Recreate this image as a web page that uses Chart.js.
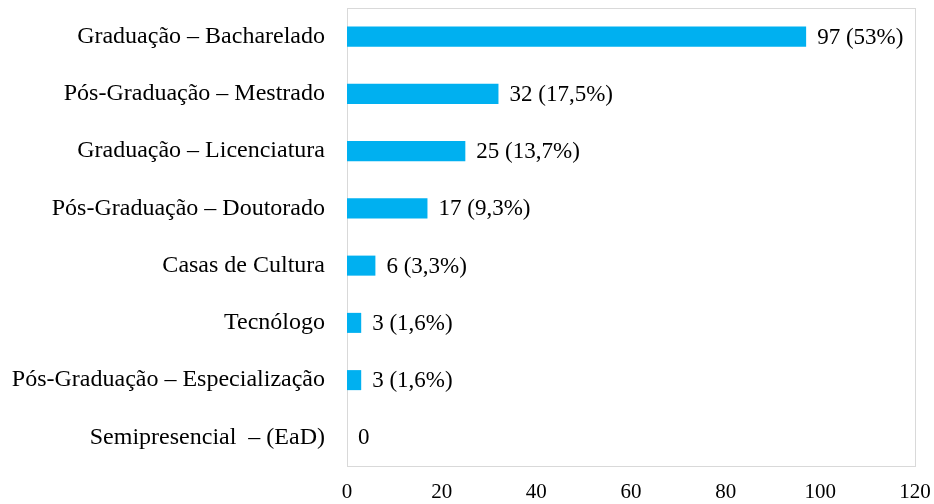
<!DOCTYPE html>
<html>
<head>
<meta charset="utf-8">
<script src="https://cdn.jsdelivr.net/npm/chart.js@4/dist/chart.umd.min.js"></script>
<style>
  html, body { margin: 0; padding: 0; background: #fff; }
  #wrap { width: 934px; height: 504px; }
</style>
</head>
<body>
<div id="wrap"><canvas id="grafico"></canvas></div>
<script>
const categorias = [
    "Graduação – Bacharelado",
    "Pós-Graduação – Mestrado",
    "Graduação – Licenciatura",
    "Pós-Graduação – Doutorado",
    "Casas de Cultura",
    "Tecnólogo",
    "Pós-Graduação – Especialização",
    "Semipresencial  – (EaD)"
];
const valores = [97, 32, 25, 17, 6, 3, 3, 0];
const percentuais = ["53%", "17,5%", "13,7%", "9,3%", "3,3%", "1,6%", "1,6%", null];
const ticksX = [0, 20, 40, 60, 80, 100, 120];

const fonte = "'Liberation Serif', 'Times New Roman', serif";

// rotulos no fim das barras
const rotulos = {
    id: 'rotulos',
    afterDatasetsDraw(chart) {
        const ctx = chart.ctx;
        const meta = chart.getDatasetMeta(0);
        ctx.save();
        ctx.font = "23px " + fonte;
        ctx.fillStyle = "#000";
        ctx.textAlign = "left";
        ctx.textBaseline = "middle";
        meta.data.forEach((bar, i) => {
            const p = percentuais[i];
            const txt = p ? `${valores[i]} (${p})` : `${valores[i]}`;
            ctx.fillText(txt, bar.x + 11, bar.y + 1);
        });
        ctx.restore();
    }
};

// moldura cinza da area do grafico
const moldura = {
    id: 'moldura',
    beforeDatasetsDraw(chart) {
        const a = chart.chartArea;
        const ctx = chart.ctx;
        ctx.save();
        ctx.strokeStyle = "#d9d9d9";
        ctx.lineWidth = 1;
        ctx.strokeRect(a.left + 0.5, a.top + 0.5, a.right - a.left, a.bottom - a.top);
        ctx.restore();
    }
};

function semPadding(s) {
    s.paddingTop = 0;
    s.paddingBottom = 0;
    s.paddingLeft = 0;
    s.paddingRight = 0;
}

new Chart(document.getElementById("grafico"), {
    type: 'bar',
    data: {
        labels: categorias,
        datasets: [{
            data: valores,
            backgroundColor: "#00B0F0",
            categoryPercentage: 1,
            barPercentage: 0.35
        }]
    },
    options: {
        indexAxis: 'y',
        responsive: true,
        maintainAspectRatio: false,
        animation: false,
        layout: { padding: { top: 8, right: 19, left: 0, bottom: 0 } },
        plugins: {
            legend: { display: false },
            tooltip: { enabled: false }
        },
        scales: {
            x: {
                min: 0,
                max: 120,
                afterBuildTicks: (s) => { s.ticks = ticksX.map(v => ({ value: v })); },
                afterFit: (s) => { s.height = 38; semPadding(s); },
                grid: { display: false, drawTicks: false },
                border: { display: false },
                ticks: {
                    color: "#000",
                    padding: 14,
                    font: { family: fonte, size: 21 }
                }
            },
            y: {
                afterFit: (s) => { s.width = 347; semPadding(s); },
                grid: { display: false, drawTicks: false },
                border: { display: false },
                ticks: {
                    color: "#000",
                    padding: 22,
                    font: { family: fonte, size: 24 }
                }
            }
        }
    },
    plugins: [moldura, rotulos]
});
</script>
</body>
</html>
